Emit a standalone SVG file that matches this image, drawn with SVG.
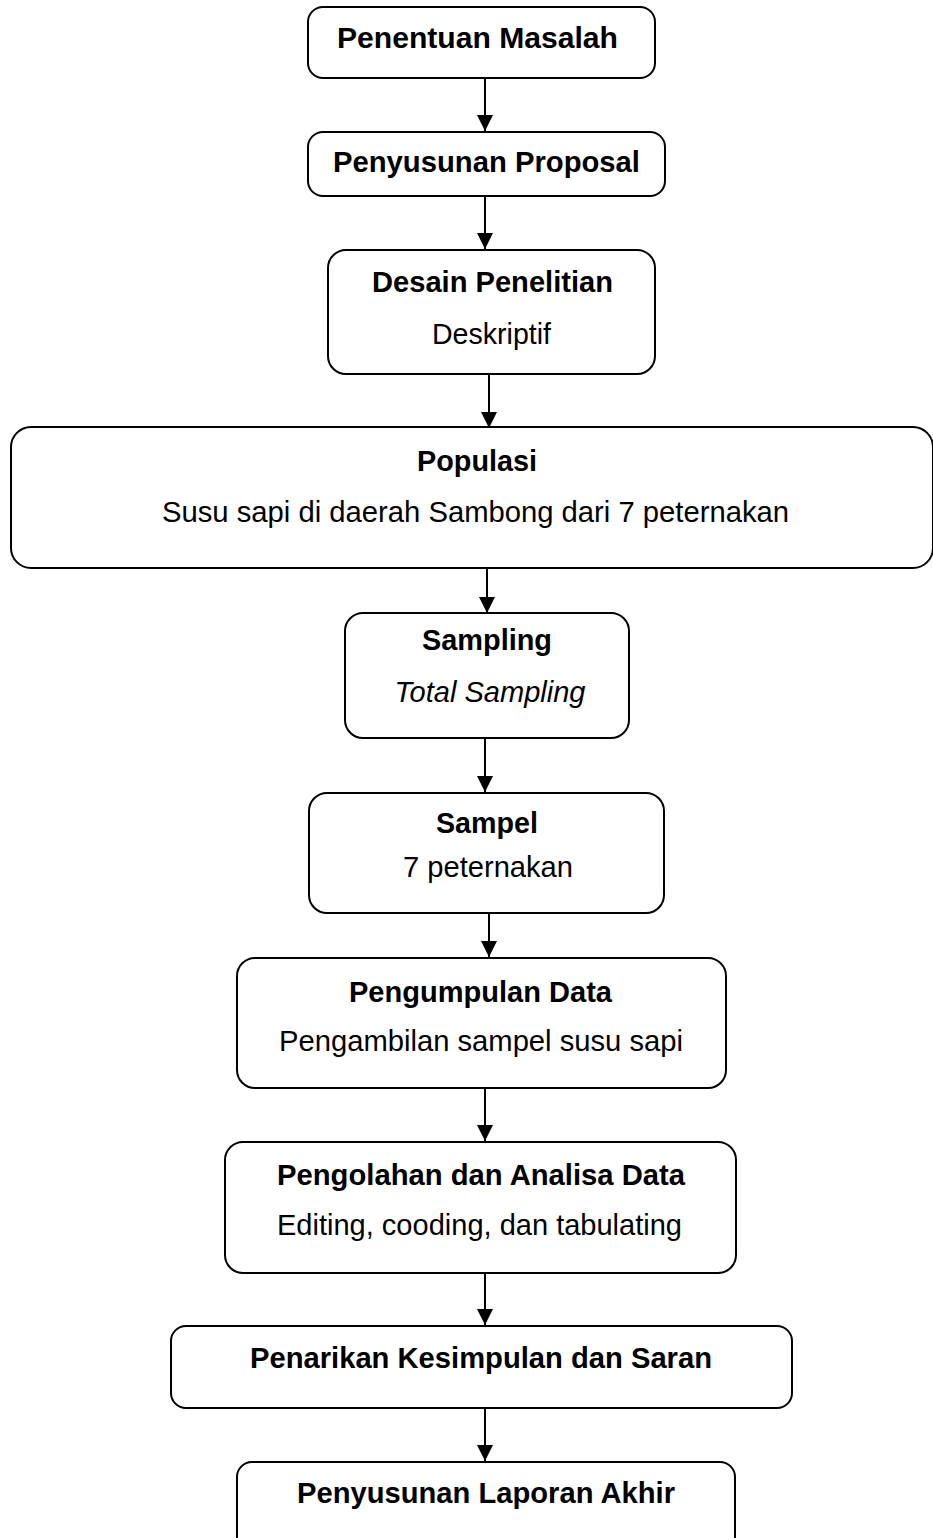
<svg xmlns="http://www.w3.org/2000/svg" width="933" height="1538" viewBox="0 0 933 1538">
<style>
.box{fill:#fff;stroke:#000;stroke-width:2}
.t{font-family:"Liberation Sans",Arial,sans-serif;font-size:29px;fill:#000;text-anchor:middle}
.b{font-weight:bold}
.i{font-style:italic}
.c{stroke:#000;stroke-width:2;fill:none;marker-end:url(#ah)}
</style>
<defs>
<marker id="ah" viewBox="0 0 16 16" refX="16" refY="8" markerWidth="16" markerHeight="16" markerUnits="userSpaceOnUse" orient="auto">
<path d="M0,0 L16,8 L0,16 z" fill="#000"/>
</marker>
</defs>
<rect width="933" height="1538" fill="#fff"/>
<g id="connectors">
<line class="c" x1="485" y1="78" x2="485" y2="131"/>
<line class="c" x1="485" y1="196" x2="485" y2="249"/>
<line class="c" x1="489" y1="374" x2="489" y2="428"/>
<line class="c" x1="487" y1="560" x2="487" y2="613"/>
<line class="c" x1="485" y1="738" x2="485" y2="792"/>
<line class="c" x1="489" y1="903" x2="489" y2="957"/>
<line class="c" x1="485" y1="1088" x2="485" y2="1141"/>
<line class="c" x1="485" y1="1273" x2="485" y2="1325"/>
<line class="c" x1="485" y1="1408" x2="485" y2="1461"/>
</g>
<g id="n1">
<rect class="box" x="308" y="7" width="347" height="71" rx="15"/>
<text class="t b" x="477.5" y="48" textLength="281" lengthAdjust="spacingAndGlyphs">Penentuan Masalah</text>
</g>
<g id="n2">
<rect class="box" x="308" y="132" width="357" height="64" rx="15"/>
<text class="t b" x="486.5" y="172" textLength="307" lengthAdjust="spacingAndGlyphs">Penyusunan Proposal</text>
</g>
<g id="n3">
<rect class="box" x="328" y="250" width="327" height="124" rx="18"/>
<text class="t b" x="492.5" y="292" textLength="241" lengthAdjust="spacingAndGlyphs">Desain Penelitian</text>
<text class="t" x="491.5" y="344" textLength="119" lengthAdjust="spacingAndGlyphs">Deskriptif</text>
</g>
<g id="n4">
<rect class="box" x="11" y="427" width="922" height="141" rx="20"/>
<text class="t b" x="477" y="471" textLength="120" lengthAdjust="spacingAndGlyphs">Populasi</text>
<text class="t" x="475.5" y="522" textLength="627" lengthAdjust="spacingAndGlyphs">Susu sapi di daerah Sambong dari 7 peternakan</text>
</g>
<g id="n5">
<rect class="box" x="345" y="613" width="284" height="125" rx="18"/>
<text class="t b" x="487" y="650" textLength="130" lengthAdjust="spacingAndGlyphs">Sampling</text>
<text class="t i" x="490" y="702" textLength="191" lengthAdjust="spacingAndGlyphs">Total Sampling</text>
</g>
<g id="n6">
<rect class="box" x="309" y="793" width="355" height="120" rx="18"/>
<text class="t b" x="487" y="833" textLength="102" lengthAdjust="spacingAndGlyphs">Sampel</text>
<text class="t" x="488" y="877" textLength="170" lengthAdjust="spacingAndGlyphs">7 peternakan</text>
</g>
<g id="n7">
<rect class="box" x="237" y="958" width="489" height="130" rx="18"/>
<text class="t b" x="480.5" y="1002" textLength="263" lengthAdjust="spacingAndGlyphs">Pengumpulan Data</text>
<text class="t" x="481" y="1051" textLength="404" lengthAdjust="spacingAndGlyphs">Pengambilan sampel susu sapi</text>
</g>
<g id="n8">
<rect class="box" x="225" y="1142" width="511" height="131" rx="18"/>
<text class="t b" x="481" y="1185" textLength="408" lengthAdjust="spacingAndGlyphs">Pengolahan dan Analisa Data</text>
<text class="t" x="479.5" y="1235" textLength="405" lengthAdjust="spacingAndGlyphs">Editing, cooding, dan tabulating</text>
</g>
<g id="n9">
<rect class="box" x="171" y="1326" width="621" height="82" rx="15"/>
<text class="t b" x="481" y="1368" textLength="462" lengthAdjust="spacingAndGlyphs">Penarikan Kesimpulan dan Saran</text>
</g>
<g id="n10">
<rect class="box" x="237" y="1462" width="498" height="100" rx="15"/>
<text class="t b" x="486" y="1503" textLength="378" lengthAdjust="spacingAndGlyphs">Penyusunan Laporan Akhir</text>
</g>
</svg>
